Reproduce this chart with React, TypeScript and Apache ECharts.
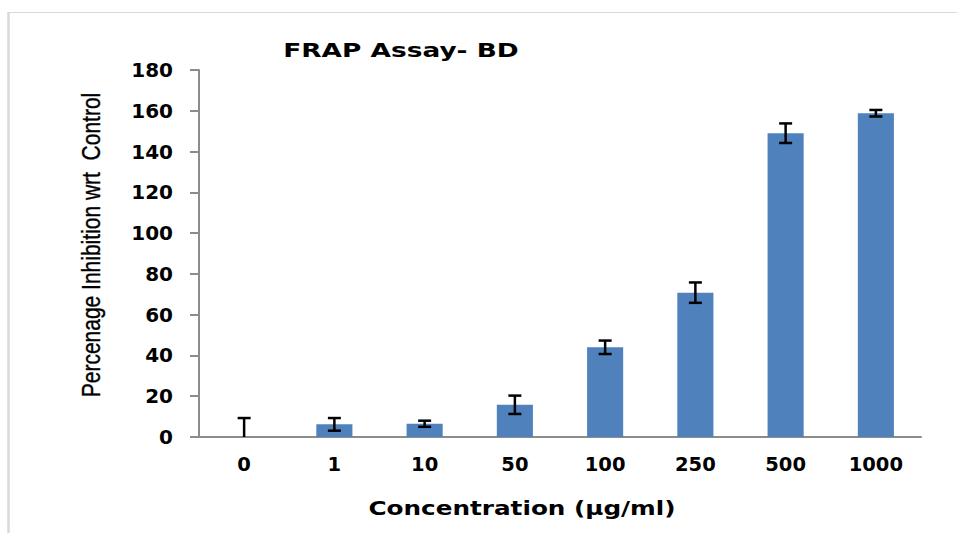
import React, { useEffect, useRef } from "react";
import * as echarts from "echarts";

const categories = ["0", "1", "10", "50", "100", "250", "500", "1000"];
const values = [0, 6.2, 6.5, 15.8, 44, 70.8, 149, 158.8];
const errors = [9.3, 3.1, 1.5, 4.5, 3.3, 5, 4.8, 1.6];
const yTicks = { min: 0, max: 180, interval: 20 };
const titleText = "FRAP Assay- BD";
const xName = "Concentration (µg/ml)";
const yName = "Percenage Inhibition wrt  Control";

export default function App() {
  const ref = useRef<HTMLDivElement>(null);
  useEffect(() => {
    if (!ref.current) return;
    const chart = echarts.init(ref.current, null, { renderer: "svg" });
    const errData = values.map((v, i) => [i, v, errors[i]]);
    chart.setOption({
      animation: false,
      backgroundColor: "#ffffff",
      grid: { left: 199, right: 36, top: 70, bottom: 96 },
      xAxis: {
        type: "category",
        data: categories,
        axisLine: { lineStyle: { color: "#8c8c8c", width: 2 } },
        axisTick: { show: false },
        axisLabel: {
          fontFamily: "DejaVu Sans",
          fontWeight: "bold",
          fontSize: 19.5,
          color: "#000",
          margin: 17,
        },
      },
      yAxis: {
        type: "value",
        min: yTicks.min,
        max: yTicks.max,
        interval: yTicks.interval,
        splitLine: { show: false },
        axisLine: { show: true, lineStyle: { color: "#8c8c8c", width: 2 } },
        axisTick: { show: true, length: 9, lineStyle: { color: "#8c8c8c", width: 2 } },
        axisLabel: {
          fontFamily: "DejaVu Sans",
          fontWeight: "bold",
          fontSize: 20,
          color: "#000",
          margin: 26,
        },
      },
      series: [
        {
          type: "bar",
          data: values,
          barWidth: "40%",
          itemStyle: { color: "#4f81bd" },
        },
        {
          type: "custom",
          data: errData,
          z: 10,
          clip: true,
          renderItem: (params: any, api: any) => {
            const idx = api.value(0);
            const v = api.value(1);
            const e = api.value(2);
            const hiV = v + e;
            const loRaw = v - e;
            const lo = Math.max(loRaw, 0);
            const top = api.coord([idx, hiV]);
            const bot = api.coord([idx, lo]);
            const hw = 6.5;
            const style = { stroke: "#000", lineWidth: 2.5 };
            const children: any[] = [
              { type: "line", shape: { x1: top[0], y1: top[1], x2: bot[0], y2: bot[1] }, style },
              { type: "line", shape: { x1: top[0] - hw, y1: top[1], x2: top[0] + hw, y2: top[1] }, style },
            ];
            if (loRaw >= 0) {
              children.push({
                type: "line",
                shape: { x1: bot[0] - hw, y1: bot[1], x2: bot[0] + hw, y2: bot[1] },
                style,
              });
            }
            return { type: "group", children };
          },
        },
      ],
      graphic: [
        { type: "line", shape: { x1: 8.5, y1: 12, x2: 8.5, y2: 540 }, style: { stroke: "#d9d9d9", lineWidth: 2.5 } },
        { type: "line", shape: { x1: 8, y1: 12.5, x2: 960, y2: 12.5 }, style: { stroke: "#d9d9d9", lineWidth: 1 } },
        {
          type: "text",
          x: 401,
          y: 50,
          scaleX: 1.32,
          style: {
            text: titleText,
            fontFamily: "DejaVu Sans",
            fontWeight: "bold",
            fontSize: 20,
            fill: "#000",
            align: "center",
            verticalAlign: "middle",
          },
        },
        {
          type: "text",
          x: 522,
          y: 509,
          scaleX: 1.3,
          style: {
            text: xName,
            fontFamily: "DejaVu Sans",
            fontWeight: "bold",
            fontSize: 19,
            fill: "#000",
            align: "center",
            verticalAlign: "middle",
          },
        },
        {
          type: "text",
          x: 91,
          y: 245,
          rotation: Math.PI / 2,
          scaleY: 1.2,
          style: {
            text: yName,
            fontFamily: "Liberation Sans",
            fontSize: 21,
            fill: "#000",
            align: "center",
            verticalAlign: "middle",
            stroke: "#000",
            lineWidth: 0.3,
          },
        },
      ],
    });
    return () => chart.dispose();
  }, []);
  return (
    <div
      ref={ref}
      style={{ position: "fixed", left: 0, top: 0, width: 957, height: 533 }}
    />
  );
}
